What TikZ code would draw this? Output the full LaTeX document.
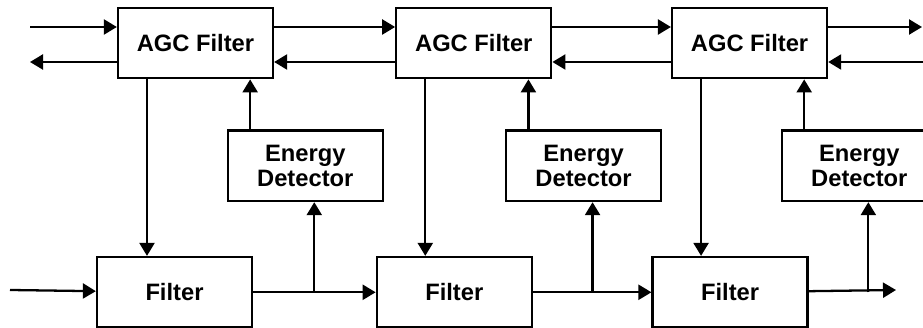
\documentclass[tikz,border=0pt]{standalone}
\usepackage{fontspec}
\setmainfont{Liberation Sans}
\usetikzlibrary{positioning, arrows.meta}

\begin{document}
\begin{tikzpicture}[
      node distance=2.42cm,
      blk/.style={draw, line width=1.3pt, minimum width=3.1cm,
                  minimum height=1.41cm, inner sep=0pt, align=center,
                  font=\bfseries\fontsize{13.5}{14.5}\selectfont},
      arr/.style={-{Triangle[length=2.6mm, width=3mm]}, line width=1.3pt}]
    \useasboundingbox (0,0) rectangle (18.46,-6.56);
    \clip (0,0) rectangle (18.46,-6.56);
    \node[blk] (agc1) at (3.91,-0.86) {AGC Filter};
    \node[blk, right=of agc1] (agc2) {AGC Filter};
    \node[blk, right=2.37cm of agc2] (agc3) {AGC Filter};
    \node[blk, below=3.53cm of agc1, xshift=-0.42cm] (fil1) {Filter};
    \node[blk, right=2.45cm of fil1] (fil2) {Filter};
    \node[blk, right=2.37cm of fil2] (fil3) {Filter};
    \node[blk, below right=1.0cm and -0.95cm of agc1] (ed1) {Energy\\ Detector};
    \node[blk, below right=1.0cm and -0.95cm of agc2] (ed2) {Energy\\ Detector};
    \node[blk, below right=1.0cm and -0.95cm of agc3] (ed3) {Energy\\ Detector};
    \coordinate (fwdin) at (0.6,-0.54);
    \coordinate (bckout) at (0.6,-1.24);
    \coordinate (fwdout) at (18.44,-0.54);
    \coordinate (bckin) at (18.5,-1.24);
    \coordinate (sigin) at (0.2,-5.8);
    \coordinate (sigout) at (17.92,-5.8);
    \coordinate (tap1) at ([xshift=0.18cm]ed1.south |- fil1.east);
    \coordinate (tap2) at ([xshift=0.18cm]ed2.south |- fil2.east);
    \coordinate (tap3) at ([xshift=0.18cm]ed3.south |- fil3.east);
    \draw[arr] (fwdin) -- (fwdin -| agc1.west);
    \draw[arr] (agc1.east |- fwdin) -- (agc2.west |- fwdin);
    \draw[arr] (agc2.east |- fwdin) -- (agc3.west |- fwdin);
    \draw[arr] (agc3.east |- fwdin) -- (fwdout);
    \draw[arr] (bckin) -- (bckin -| agc3.east);
    \draw[arr] (agc3.west |- bckout) -- (agc2.east |- bckout);
    \draw[arr] (agc2.west |- bckout) -- (agc1.east |- bckout);
    \draw[arr] (agc1.west |- bckout) -- (bckout);
    \draw[arr] ([xshift=-0.97cm]agc1.south) -- ([xshift=-0.97cm]agc1.south |- fil1.north);
    \draw[arr] ([xshift=-0.97cm]agc2.south) -- ([xshift=-0.97cm]agc2.south |- fil2.north);
    \draw[arr] ([xshift=-0.97cm]agc3.south) -- ([xshift=-0.97cm]agc3.south |- fil3.north);
    \draw[arr] ([xshift=0.47cm]ed1.north west) -- ([xshift=0.47cm]ed1.north west |- agc1.south);
    \draw[arr] ([xshift=0.47cm]ed2.north west) -- ([xshift=0.47cm]ed2.north west |- agc2.south);
    \draw[arr] ([xshift=0.47cm]ed3.north west) -- ([xshift=0.47cm]ed3.north west |- agc3.south);
    \draw[arr] (sigin) -- (fil1);
    \draw[arr] (fil1) -- (fil2);
    \draw[arr] (fil2) -- (fil3);
    \draw[arr] (fil3) -- (sigout);
    \draw[arr] (tap1) -- (tap1 |- ed1.south);
    \draw[arr] (tap2) -- (tap2 |- ed2.south);
    \draw[arr] (tap3) -- (tap3 |- ed3.south);
  \end{tikzpicture}
\end{document}
